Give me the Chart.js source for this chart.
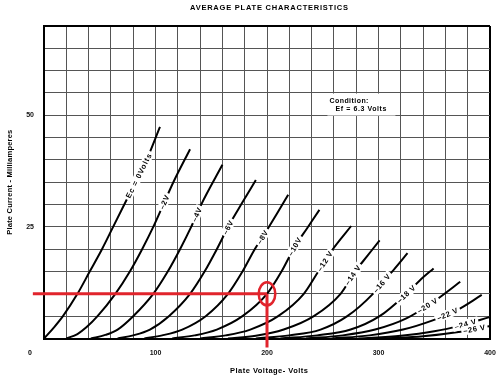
<!DOCTYPE html>
<html><head><meta charset="utf-8">
<script src="https://cdn.jsdelivr.net/npm/chart.js@4.4.1/dist/chart.umd.min.js"></script>
<style>html,body{margin:0;padding:0;background:#fff}#wrap{width:502px;height:381px}</style>
</head><body><div id="wrap"><canvas id="c" width="502" height="381"></canvas></div>
<script>
// ---- data (plate volts, plate current mA) ----
const gridVoltages = [0,-2,-4,-6,-8,-10,-12,-14,-16,-18,-20,-22,-24,-26];
const curveLabels = ['Ec = 0Volts','–2V','–4V','–6V','–8V','–10V','–12 V','–14 V','–16 V','–18 V','–20 V','–22 V','–24 V','–26 V'];
const curve0  = [[0,0],[9,2.5],[17,5],[30,10],[41,15],[52,20],[62,25],[72,30],[82,35],[92,40],[104,47.4]];
const curve2  = [[20,0],[30,1],[38,2.5],[48,5],[64,10],[77,15],[88,20],[98,25],[107,30],[116,35],[131,42.4]];
const curve4  = [[42,0],[55,0.8],[66,2],[80,5],[98,10],[111,15],[122,20],[132,25],[141,30],[160,38.9]];
const curve6  = [[66,0],[80,0.7],[95,2],[112,5],[131,10],[144,15],[155,20],[166,25.4],[178,30.5],[190,35.5]];
const curve8  = [[90,0],[106,0.7],[124,2],[145,5],[165,10],[178,15],[189,20],[198,23.5],[209,28],[219,32.2]];
const curve10 = [[115,0],[135,0.7],[155,2],[178,5],[200,10],[213,15],[225,20.6],[236,24.7],[247,28.8]];
const curve12 = [[140,0],[163,0.7],[185,2],[210,5],[233,10],[246,15],[259,20],[275.5,25.2]];
const curve14 = [[165,0],[190,0.6],[215,2],[242,5],[266,10],[279,15],[290,18.5],[301,22]];
const curve16 = [[190,0],[220,0.7],[248,2],[272,5],[295,10],[303,12.4],[314,15.5],[326,19.1]];
const curve18 = [[212,0],[245,0.7],[275,2],[301,5],[325,10],[337,13],[349.4,15.7]];
const curve20 = [[235,0],[268,0.7],[297,2],[325,4.5],[348,8],[373.3,12.7]];
const curve22 = [[258,0],[292,0.7],[322,2],[348,4],[370,6.3],[392.6,9.75]];
const curve24 = [[282,0],[320,0.6],[350,1.6],[375,3],[400,4.8]];
const curve26 = [[305,0],[340,0.5],[370,1.4],[400,2.8]];
const curves = [curve0,curve2,curve4,curve6,curve8,curve10,curve12,curve14,curve16,curve18,curve20,curve22,curve24,curve26];
const labelVolts = [85,108,137,165,196,225,252,277,303,325,344,362,378,386];
// operating point marker
const markVolts = 200, markCurrent = 10;
const markLineH = [[-10,10],[200,10]];
const markLineV = [[200,10],[200,-2]];
// axes
const xTickLabels = [100,200,300,400];
const yTickLabels = [25,50];
const titleText = 'AVERAGE PLATE CHARACTERISTICS';
const xTitle = 'Plate Voltage- Volts';
const yTitle = 'Plate Current - Milliamperes';
const conditionLines = ['Condition:','Ef = 6.3 Volts'];
const conditionAt = [256, 53.3];

const RED = '#e1242c';
const FONT = '"Liberation Sans", Arial, sans-serif';
const toPts = a => a.map(p => ({x:p[0], y:p[1]}));

function interp(pts, v){
  if (v <= pts[0][0]) return pts[0][1];
  for (let i=0;i<pts.length-1;i++){
    const a=pts[i], b=pts[i+1];
    if (v>=a[0] && v<=b[0]) return a[1]+(b[1]-a[1])*(v-a[0])/(b[0]-a[0]);
  }
  return pts[pts.length-1][1];
}
function spacedText(ctx, txt, cx, cy, target, align){
  ctx.letterSpacing = '0px';
  const w = ctx.measureText(txt).width;
  const ls = target ? Math.max(0,(target-w)/(txt.length-1)) : 0;
  ctx.letterSpacing = ls+'px';
  const tw = w + ls*(txt.length-1);
  ctx.textAlign='left';
  const x0 = align==='left' ? cx : cx - tw/2;
  ctx.fillText(txt, x0, cy);
  ctx.letterSpacing='0px';
  return tw;
}

const decor = {
  id:'decor',
  afterDatasetsDraw(chart){
    const {ctx, chartArea:a, scales:{x,y}} = chart;
    ctx.save();
    // circle
    ctx.strokeStyle=RED; ctx.lineWidth=2.5;
    ctx.beginPath();
    ctx.ellipse(x.getPixelForValue(markVolts), y.getPixelForValue(markCurrent), 8.3, 11.5, 0, 0, Math.PI*2);
    ctx.stroke();
    // curve labels
    ctx.font = 'bold 7.5px '+FONT;
    ctx.textBaseline='middle';
    curves.forEach((pts,i)=>{
      const v = labelVolts[i];
      const px = x.getPixelForValue(v), py = y.getPixelForValue(interp(pts,v));
      const p1x = x.getPixelForValue(v-5), p1y = y.getPixelForValue(interp(pts,v-5));
      const p2x = x.getPixelForValue(Math.min(v+5,400)), p2y = y.getPixelForValue(interp(pts,Math.min(v+5,400)));
      const ang = Math.atan2(p2y-p1y, p2x-p1x);
      ctx.save();
      ctx.translate(px,py); ctx.rotate(ang);
      ctx.letterSpacing = i===0 ? '0.9px' : '0.6px';
      const tw = ctx.measureText(curveLabels[i]).width;
      ctx.fillStyle='#fff';
      ctx.fillRect(-tw/2-2,-4.5,tw+4,9);
      ctx.fillStyle='#000';
      ctx.textAlign='center';
      ctx.fillText(curveLabels[i],0,0.5);
      ctx.restore();
    });
    // condition box
    const cx = x.getPixelForValue(conditionAt[0]), cy = y.getPixelForValue(conditionAt[1]);
    ctx.fillStyle='#fff';
    ctx.fillRect(cx-2, cy-7, 68, 22);
    ctx.fillStyle='#000';
    ctx.font='bold 7px '+FONT;
    ctx.textBaseline='alphabetic';
    spacedText(ctx, conditionLines[0], cx, cy+2, 39, 'left');
    spacedText(ctx, conditionLines[1], cx+6, cy+10.5, 51, 'left');
    ctx.restore();
  },
  afterDraw(chart){
    const {ctx, chartArea:a} = chart;
    ctx.save();
    ctx.fillStyle='#000';
    ctx.textBaseline='middle';
    ctx.font='bold 7.5px '+FONT;
    const midX = (a.left+a.right)/2 + 2;
    spacedText(ctx, titleText, midX, 7.5, 158);
    spacedText(ctx, xTitle, midX, a.bottom+32.5, 78);
    // corner zero
    ctx.font='bold 7px '+FONT;
    ctx.textAlign='center';
    ctx.fillText('0', a.left-14, a.bottom+14.5);
    // y title
    ctx.font='bold 7.5px '+FONT;
    ctx.translate(10,(a.top+a.bottom)/2);
    ctx.rotate(-Math.PI/2);
    spacedText(ctx, yTitle, 0, 0, 105);
    ctx.restore();
  }
};

const datasets = [
  {data:toPts(markLineH), borderColor:RED, borderWidth:3, pointRadius:0, clip:false, order:0},
  {data:toPts(markLineV), borderColor:RED, borderWidth:3, pointRadius:0, clip:false, order:0},
  ...curves.map((c,i)=>({label:String(gridVoltages[i]), data:toPts(c), borderColor:'#000', borderWidth:2,
     pointRadius:0, cubicInterpolationMode:'monotone', order:1}))
];

new Chart(document.getElementById('c'), {
  type:'scatter',
  data:{datasets},
  options:{
    responsive:false, animation:false, devicePixelRatio:1,
    showLine:true,
    layout:{padding:{top:26,right:12,left:0,bottom:0}},
    plugins:{legend:{display:false}, tooltip:{enabled:false}, title:{display:false}},
    scales:{
      x:{type:'linear', min:0, max:400,
        afterFit(s){ s.height = 42.5; s.paddingRight = 0; s.paddingLeft = 0; },
        ticks:{stepSize:20, autoSkip:false, maxRotation:0, padding:10.3,
          color:'#111', font:{family:FONT, size:7, weight:'bold'},
          callback:v => xTickLabels.includes(v) ? String(v) : ''},
        grid:{drawTicks:false, color:c => (c.tick && c.tick.value===400) ? '#000' : '#555',
          lineWidth:c => (c.tick && c.tick.value===400) ? 2 : 1},
        border:{display:true, color:'#000', width:2}
      },
      y:{type:'linear', min:0, max:70,
        afterFit(s){ s.width = 44; s.paddingTop = 0; s.paddingBottom = 0; },
        ticks:{stepSize:5, autoSkip:false, padding:10,
          color:'#111', font:{family:FONT, size:7, weight:'bold'},
          callback:v => yTickLabels.includes(v) ? String(v) : ''},
        grid:{drawTicks:false, color:c => (c.tick && c.tick.value===70) ? '#000' : '#555',
          lineWidth:c => (c.tick && c.tick.value===70) ? 2 : 1},
        border:{display:true, color:'#000', width:2}
      }
    }
  },
  plugins:[decor]
});
</script>
</body></html>
